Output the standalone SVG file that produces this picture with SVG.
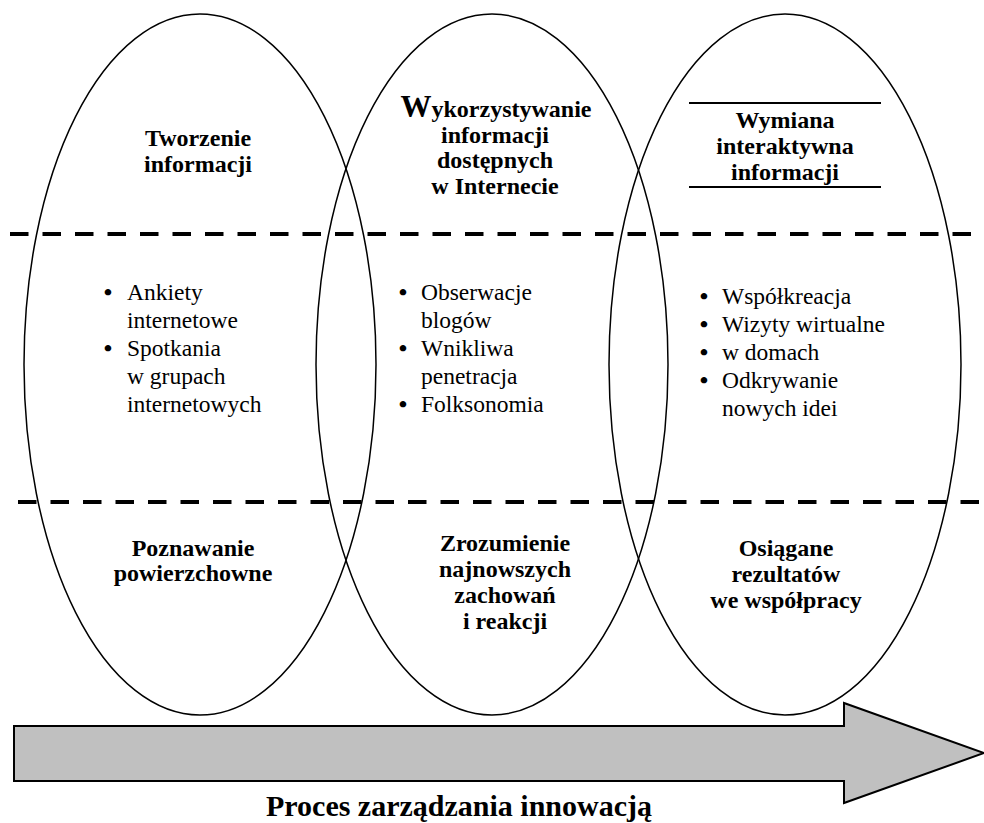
<svg xmlns="http://www.w3.org/2000/svg" width="984" height="823" viewBox="0 0 984 823">
<style>
.ell{fill:none;stroke:#000;stroke-width:1.5}
.h{font-family:"Liberation Serif","Times New Roman",serif;font-weight:bold;font-size:24px;text-anchor:middle;fill:#000}
.b{font-family:"Liberation Serif","Times New Roman",serif;font-size:23.5px;fill:#000}
.d{font-family:"Liberation Serif","Times New Roman",serif;font-weight:bold;font-size:24px;text-anchor:middle;fill:#000}
.dash{stroke:#000;stroke-width:4;stroke-dasharray:18.5 14;fill:none}
.rule{stroke:#000;stroke-width:2}
.arrow{fill:#c0c0c0;stroke:#000;stroke-width:2}
.foot{font-family:"Liberation Serif","Times New Roman",serif;font-weight:bold;font-size:30px;text-anchor:middle;fill:#000}
</style>
<rect width="984" height="823" fill="#fff"/>
<g id="col-1">
<ellipse class="ell" cx="200" cy="364.5" rx="176" ry="350.5"/>
<text class="h" x="198" y="146">Tworzenie</text>
<text class="h" x="198" y="172">informacji</text>
<text class="d" x="108" y="300">•</text><text class="b" x="127" y="300">Ankiety</text>
<text class="b" x="127" y="328">internetowe</text>
<text class="d" x="108" y="356">•</text><text class="b" x="127" y="356">Spotkania</text>
<text class="b" x="127" y="384">w grupach</text>
<text class="b" x="127" y="412">internetowych</text>
<text class="h" x="193" y="556">Poznawanie</text>
<text class="h" x="193" y="581">powierzchowne</text>
</g>
<g id="col-2">
<ellipse class="ell" cx="492" cy="364.5" rx="176" ry="350.5"/>
<text class="h" x="496" y="117"><tspan font-size="31">W</tspan>ykorzystywanie</text>
<text class="h" x="495" y="142.5">informacji</text>
<text class="h" x="495" y="168">dostępnych</text>
<text class="h" x="495" y="193.5">w Internecie</text>
<text class="d" x="403" y="300">•</text><text class="b" x="421" y="300">Obserwacje</text>
<text class="b" x="421" y="328">blogów</text>
<text class="d" x="403" y="356">•</text><text class="b" x="421" y="356">Wnikliwa</text>
<text class="b" x="421" y="384">penetracja</text>
<text class="d" x="403" y="412">•</text><text class="b" x="421" y="412">Folksonomia</text>
<text class="h" x="505" y="551">Zrozumienie</text>
<text class="h" x="505" y="577">najnowszych</text>
<text class="h" x="505" y="603">zachowań</text>
<text class="h" x="505" y="629">i reakcji</text>
</g>
<g id="col-3">
<ellipse class="ell" cx="785" cy="364.5" rx="176" ry="350.5"/>
<line class="rule" x1="689" y1="103" x2="881" y2="103"/>
<line class="rule" x1="689" y1="187" x2="881" y2="187"/>
<text class="h" x="785" y="128">Wymiana</text>
<text class="h" x="785" y="154">interaktywna</text>
<text class="h" x="785" y="180">informacji</text>
<text class="d" x="704" y="304">•</text><text class="b" x="722" y="304">Współkreacja</text>
<text class="d" x="704" y="332">•</text><text class="b" x="722" y="332">Wizyty wirtualne</text>
<text class="d" x="704" y="360">•</text><text class="b" x="722" y="360">w domach</text>
<text class="d" x="704" y="388">•</text><text class="b" x="722" y="388">Odkrywanie</text>
<text class="b" x="722" y="416">nowych idei</text>
<text class="h" x="786" y="556">Osiągane</text>
<text class="h" x="786" y="582">rezultatów</text>
<text class="h" x="786" y="608">we współpracy</text>
</g>
<g id="separators">
<line class="dash" x1="10" y1="234" x2="984" y2="234"/>
<line class="dash" x1="18" y1="502" x2="984" y2="502"/>
</g>
<g id="connectors">
<polygon class="arrow" points="14,726 844,726 844,703 984,753 844,803 844,781 14,781"/>
</g>
<text class="foot" x="459" y="816">Proces zarządzania innowacją</text>
</svg>
